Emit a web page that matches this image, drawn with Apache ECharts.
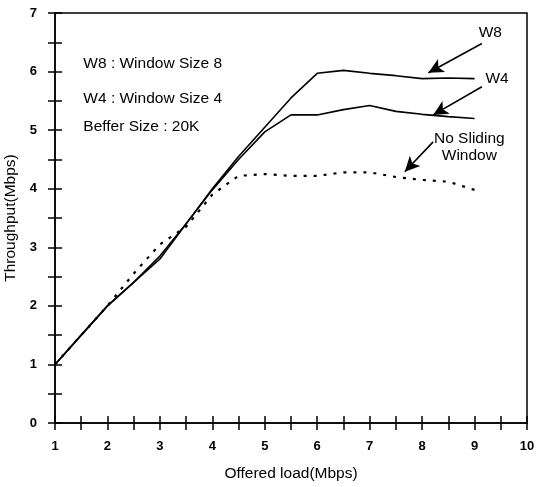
<!DOCTYPE html>
<html><head><meta charset="utf-8">
<script src="https://cdn.jsdelivr.net/npm/echarts@6/dist/echarts.min.js"></script>
<style>html,body{margin:0;padding:0;background:#fff}#c{width:538px;height:487px}</style>
</head><body><div id="c"></div>
<script>
const offeredLoad = [1, 1.5, 2, 2.5, 3, 3.5, 4, 4.5, 5, 5.5, 6, 6.5, 7, 7.5, 8, 8.5, 9];
const w8Throughput = [1.0, 1.5, 2.0, 2.4, 2.85, 3.4, 4.0, 4.55, 5.05, 5.55, 5.97, 6.02, 5.97, 5.93, 5.88, 5.89, 5.88];
const w4Throughput = [1.0, 1.5, 2.0, 2.4, 2.8, 3.4, 3.98, 4.5, 4.97, 5.26, 5.26, 5.35, 5.42, 5.32, 5.27, 5.23, 5.2];
const noSlidingThroughput = [1.0, 1.5, 2.0, 2.55, 3.05, 3.35, 3.9, 4.22, 4.25, 4.22, 4.22, 4.28, 4.28, 4.2, 4.15, 4.12, 3.98];
const xTickLabels = ['1','2','3','4','5','6','7','8','9','10'];
const yTickLabels = ['0','1','2','3','4','5','6','7'];

const FONT = 'Liberation Sans, Arial, sans-serif';
const pairs = ys => offeredLoad.map((x, i) => [x, ys[i]]);
const tickTxt = {color:'#000', fontFamily: FONT, fontSize: 13, fontWeight: 'bold'};
const bigTxt = {color:'#000', fontFamily: FONT, fontSize: 15.5, fontWeight: 'normal'};

function noteText(name, coord, align) {
  return {
    name, coord, symbol: 'circle', symbolSize: 0,
    label: Object.assign({show: true, formatter: '{b}', position: align === 'left' ? 'right' : 'inside', distance: 0}, bigTxt)
  };
}
function arrow(from, to) {
  return [{coord: from}, {coord: to}];
}

const chart = echarts.init(document.getElementById('c'), null, {renderer: 'canvas'});
const axisCommon = (inside, showLabels, labels, isX) => ({
  type: 'value',
  position: isX ? 'bottom' : 'left',
  min: isX ? 1 : 0, max: isX ? 10 : 7, interval: 0.5,
  splitLine: {show: false},
  axisLine: {show: !inside, onZero: false, lineStyle: {color: '#000', width: 1.5}},
  axisTick: {show: true, inside: inside, length: 7, lineStyle: {color: '#000', width: 1.5}},
  axisLabel: showLabels ? Object.assign({
    show: true, margin: isX ? 17 : 18,
    formatter: v => Number.isInteger(v) ? labels[labels.indexOf(String(v))] : ''
  }, tickTxt) : {show: false}
});

const option = {
  animation: false,
  backgroundColor: '#fff',
  grid: {left: 55, right: 11, top: 13, bottom: 64, outerBoundsMode: 'none', containLabel: false,
         show: true, borderColor: '#000', borderWidth: 1.5, backgroundColor: 'transparent'},
  xAxis: [
    Object.assign(axisCommon(false, true, xTickLabels, true), {
      name: 'Offered load(Mbps)', nameLocation: 'middle', nameGap: 43, nameTextStyle: bigTxt
    }),
    axisCommon(true, false, xTickLabels, true)
  ],
  yAxis: [
    Object.assign(axisCommon(false, true, yTickLabels, false), {
      name: 'Throughput(Mbps)', nameLocation: 'middle', nameGap: 32, nameTextStyle: bigTxt
    }),
    axisCommon(true, false, yTickLabels, false)
  ],
  series: [
    {
      name: 'W8', type: 'line', data: pairs(w8Throughput), showSymbol: false,
      lineStyle: {color: '#000', width: 1.6},
      markLine: {
        silent: true, symbol: ['none', 'arrow'], symbolSize: [11, 15],
        lineStyle: {color: '#000', width: 1.6, type: 'solid'}, label: {show: false},
        data: [arrow([9.14, 6.48], [8.12, 5.98]), arrow([9.14, 5.74], [8.21, 5.26]), arrow([8.21, 4.8], [7.67, 4.29])]
      },
      markPoint: {
        silent: true,
        data: [
          noteText('W8', [9.3, 6.66]),
          noteText('W4', [9.43, 5.87]),
          noteText('No Sliding', [8.9, 4.85]),
          noteText('Window', [8.9, 4.57]),
          noteText('W8 : Window Size 8', [1.54, 6.14], 'left'),
          noteText('W4 : Window Size 4', [1.54, 5.53], 'left'),
          noteText('Beffer Size : 20K', [1.54, 5.05], 'left')
        ]
      }
    },
    {name: 'W4', type: 'line', data: pairs(w4Throughput), showSymbol: false, lineStyle: {color: '#000', width: 1.6}},
    {name: 'No Sliding Window', type: 'line', data: pairs(noSlidingThroughput), showSymbol: false,
     lineStyle: {color: '#000', width: 2.2, type: [3, 7]}}
  ]
};
chart.setOption(option);
</script></body></html>
